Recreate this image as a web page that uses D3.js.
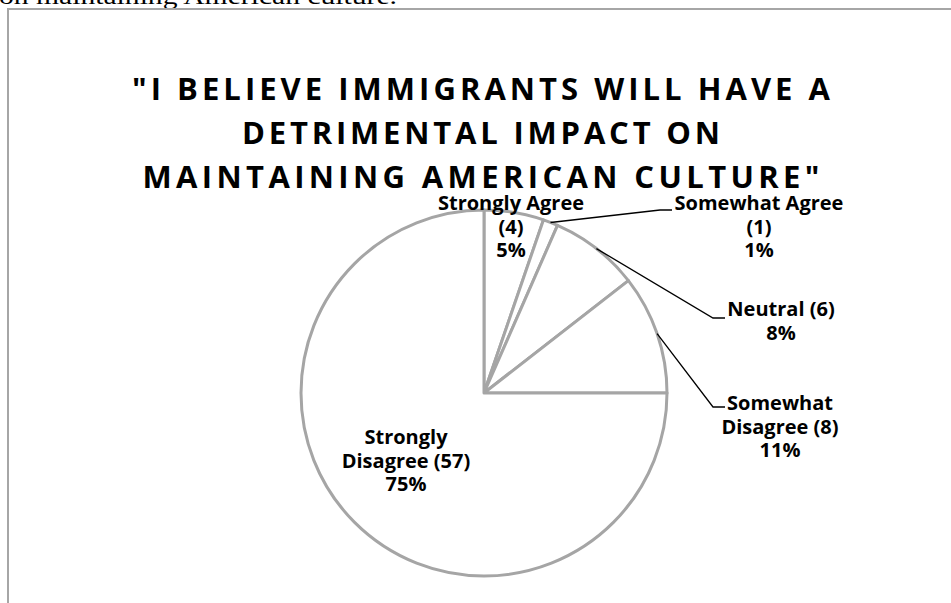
<!DOCTYPE html>
<html>
<head>
<meta charset="utf-8">
<script src="https://cdn.jsdelivr.net/npm/d3@7"></script>
<style>
  html, body { margin: 0; padding: 0; background: #fff; }
  svg { display: block; }
</style>
</head>
<body>
<svg id="chart" width="951" height="603"></svg>
<script>
// Survey responses
const categories = ["Strongly Agree", "Somewhat Agree", "Neutral", "Somewhat Disagree", "Strongly Disagree"];
const counts = [4, 1, 6, 8, 57];
const titleLines = ["\"I BELIEVE IMMIGRANTS WILL HAVE A", "DETRIMENTAL IMPACT ON", "MAINTAINING AMERICAN CULTURE\""];
const captionText = "on maintaining American culture.";

const W = 951, H = 603;
const svg = d3.select("#chart");

// clipped line of the surrounding document
svg.append("text")
  .attr("x", -1).attr("y", 4)
  .attr("font-family", "'Liberation Serif', 'Times New Roman', serif")
  .attr("font-size", 24)
  .attr("textLength", 398).attr("lengthAdjust", "spacingAndGlyphs")
  .attr("fill", "#000")
  .text(captionText);

// chart frame
svg.append("rect")
  .attr("x", 8).attr("y", 9)
  .attr("width", W + 20).attr("height", H + 20)
  .attr("fill", "#fff")
  .attr("stroke", "#a6a6a6").attr("stroke-width", 2);

// title
const titleFont = "'Open Sans', sans-serif";
const titleWidths = [698, 478, 677];
const titleCx = 481;
titleLines.forEach((t, i) => {
  svg.append("text")
    .attr("x", titleCx).attr("y", 100 + i * 44)
    .attr("text-anchor", "middle")
    .attr("font-family", titleFont)
    .attr("font-weight", 700)
    .attr("font-size", 31)
    .attr("textLength", titleWidths[i]).attr("lengthAdjust", "spacing")
    .attr("fill", "#000")
    .text(t);
});

// pie
const cx = 484, cy = 393, R = 183;
const total = d3.sum(counts);
const data = categories.map((c, i) => ({ name: c, value: counts[i] }));
const pie = d3.pie().value(d => d.value).sort(null).startAngle(0).endAngle(2 * Math.PI);
const arcs = pie(data);
const arc = d3.arc().innerRadius(0).outerRadius(R);

const g = svg.append("g").attr("transform", `translate(${cx},${cy})`);
g.selectAll("path.slice")
  .data(arcs)
  .join("path")
  .attr("class", "slice")
  .attr("d", arc)
  .attr("fill", "#fff")
  .attr("stroke", "#a5a5a5")
  .attr("stroke-width", 3)
  .attr("stroke-linejoin", "round");

// label layout: anchor centre, first baseline, words per line, leader elbow
const labelFont = "'Open Sans', sans-serif";
const labelSize = 20;
const lineH = 23.5;
const layout = [
  { x: 511, y: 210, words: [2, 1] },
  { x: 759, y: 210, words: [2, 1], elbow: [660, 210], end: [672, 210] },
  { x: 781, y: 316, words: [2], elbow: [713, 318], end: [725, 318] },
  { x: 780, y: 410, words: [1, 2], elbow: [713, 407], end: [725, 407] },
  { x: 406, y: 444, words: [1, 2] }
];

const fmtPct = v => Math.round(v / total * 100) + "%";

function splitWords(str, counts) {
  const w = str.split(" ");
  const out = [];
  let k = 0;
  counts.forEach(n => { out.push(w.slice(k, k + n).join(" ")); k += n; });
  if (k < w.length) out.push(w.slice(k).join(" "));
  return out;
}

arcs.forEach((a, i) => {
  const L = layout[i];
  const lines = splitWords(`${a.data.name} (${a.data.value})`, L.words);
  lines.push(fmtPct(a.data.value));
  const t = svg.append("text")
    .attr("text-anchor", "middle")
    .attr("font-family", labelFont)
    .attr("font-weight", 700)
    .attr("font-size", labelSize)
    .attr("fill", "#000");
  lines.forEach((ln, k) => {
    t.append("tspan").attr("x", L.x).attr("y", L.y + k * lineH).text(ln);
  });
  if (L.elbow) {
    const mid = (a.startAngle + a.endAngle) / 2;
    const sx = cx + R * Math.sin(mid), sy = cy - R * Math.cos(mid);
    svg.append("polyline")
      .attr("points", [[sx, sy], L.elbow, L.end].map(p => p.join(",")).join(" "))
      .attr("fill", "none")
      .attr("stroke", "#000")
      .attr("stroke-width", 1.3);
  }
});
</script>
</body>
</html>
